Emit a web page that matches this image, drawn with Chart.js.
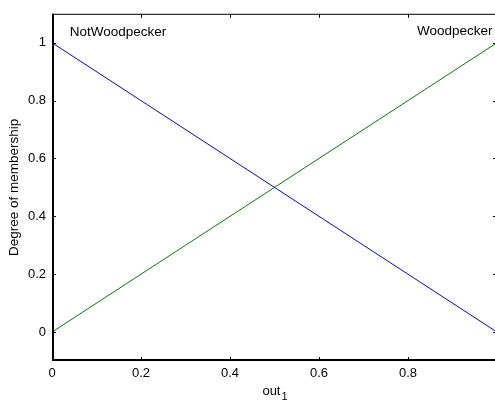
<!DOCTYPE html>
<html>
<head>
<meta charset="utf-8">
<script src="https://cdn.jsdelivr.net/npm/chart.js@4.4.0/dist/chart.umd.min.js"></script>
<style>
  html, body { margin: 0; padding: 0; background: #fff; overflow: hidden; }
  #wrap { width: 497px; height: 401px; }
</style>
</head>
<body>
<div id="wrap"><canvas id="mfChart" width="497" height="401"></canvas></div>
<script>
// membership functions of output variable out1
const xValues = [0, 1];
const notWoodpecker = [1, 0];
const woodpecker = [0, 1];
const xTicks = [0, 0.2, 0.4, 0.6, 0.8, 1];
const yTicks = [0, 0.2, 0.4, 0.6, 0.8, 1];
const mfNames = ['NotWoodpecker', 'Woodpecker'];

const FONT = '"Liberation Sans", Arial, Helvetica, sans-serif';

// MATLAB style box with inward ticks, mf names and subscripted x label
const matlabAxes = {
    id: 'matlabAxes',
    afterDraw(chart) {
        const { ctx, chartArea: a, scales: { x, y } } = chart;
        ctx.save();
        ctx.strokeStyle = '#000';

        // thin top / right edges
        ctx.lineWidth = 1;
        ctx.beginPath();
        ctx.moveTo(a.left, a.top + 0.5); ctx.lineTo(a.right, a.top + 0.5);
        ctx.moveTo(a.right - 0.5, a.top); ctx.lineTo(a.right - 0.5, a.bottom);
        ctx.stroke();

        // heavier left / bottom axis lines
        ctx.lineWidth = 2;
        ctx.beginPath();
        ctx.moveTo(a.left + 1, a.top); ctx.lineTo(a.left + 1, a.bottom);
        ctx.moveTo(a.left, a.bottom - 1); ctx.lineTo(a.right, a.bottom - 1);
        ctx.stroke();

        const tl = 4;
        ctx.lineWidth = 1;
        ctx.beginPath();
        xTicks.forEach(v => {
            const px = Math.round(x.getPixelForValue(v)) + 0.5;
            ctx.moveTo(px, a.bottom); ctx.lineTo(px, a.bottom - tl);
            ctx.moveTo(px, a.top); ctx.lineTo(px, a.top + tl);
        });
        yTicks.forEach(v => {
            const py = Math.round(y.getPixelForValue(v)) + 0.5;
            ctx.moveTo(a.left, py); ctx.lineTo(a.left + tl, py);
            ctx.moveTo(a.right, py); ctx.lineTo(a.right - tl, py);
        });
        ctx.stroke();

        // mf names above their peaks
        ctx.fillStyle = '#000';
        ctx.font = '13.5px ' + FONT;
        ctx.textBaseline = 'middle';
        ctx.textAlign = 'left';
        ctx.fillText(mfNames[0], x.getPixelForValue(0.04), y.getPixelForValue(1.037));
        ctx.textAlign = 'right';
        ctx.fillText(mfNames[1], x.getPixelForValue(0.99), y.getPixelForValue(1.04));

        // x axis label "out" with subscript 1
        const cx = (a.left + a.right) / 2;
        ctx.textBaseline = 'alphabetic';
        ctx.textAlign = 'left';
        ctx.font = '13px ' + FONT;
        const wMain = ctx.measureText('out').width;
        ctx.font = '11px ' + FONT;
        const wSub = ctx.measureText('1').width;
        const startX = cx - (wMain + wSub) / 2;
        ctx.font = '13px ' + FONT;
        ctx.fillText('out', startX, a.bottom + 34);
        ctx.font = '11px ' + FONT;
        ctx.fillText('1', startX + wMain + 1, a.bottom + 39);
        ctx.restore();
    }
};

new Chart(document.getElementById('mfChart'), {
    type: 'line',
    data: {
        datasets: [
            {
                label: mfNames[0],
                data: xValues.map((v, i) => ({ x: v, y: notWoodpecker[i] })),
                borderColor: '#0000ff',
                borderWidth: 1,
                pointRadius: 0,
                tension: 0
            },
            {
                label: mfNames[1],
                data: xValues.map((v, i) => ({ x: v, y: woodpecker[i] })),
                borderColor: '#008000',
                borderWidth: 1,
                pointRadius: 0,
                tension: 0
            }
        ]
    },
    options: {
        responsive: false,
        animation: false,
        layout: { padding: { top: 10, right: 0, left: 0, bottom: 0 } },
        plugins: { legend: { display: false }, tooltip: { enabled: false } },
        scales: {
            x: {
                type: 'linear',
                min: 0,
                max: 1,
                afterBuildTicks: s => { s.ticks = xTicks.map(v => ({ value: v })); },
                afterFit: s => { s.height = 40; s.paddingLeft = 0; s.paddingRight = 0; },
                grid: { display: false, drawTicks: false },
                border: { display: false },
                ticks: {
                    padding: 5,
                    color: '#000',
                    font: { family: FONT, size: 13 },
                    maxRotation: 0,
                    callback: v => (v >= 1 ? '' : String(v))
                }
            },
            y: {
                type: 'linear',
                min: -0.1,
                max: 1.1,
                afterBuildTicks: s => { s.ticks = yTicks.map(v => ({ value: v })); },
                afterFit: s => { s.width = 52; },
                grid: { display: false, drawTicks: false },
                border: { display: false },
                ticks: {
                    padding: 6,
                    color: '#000',
                    font: { family: FONT, size: 13 },
                    callback: v => String(v)
                },
                title: {
                    display: true,
                    text: 'Degree of membership',
                    color: '#000',
                    font: { family: FONT, size: 13.5 },
                    padding: { top: 6, bottom: 0 }
                }
            }
        }
    },
    plugins: [matlabAxes]
});
</script>
</body>
</html>
